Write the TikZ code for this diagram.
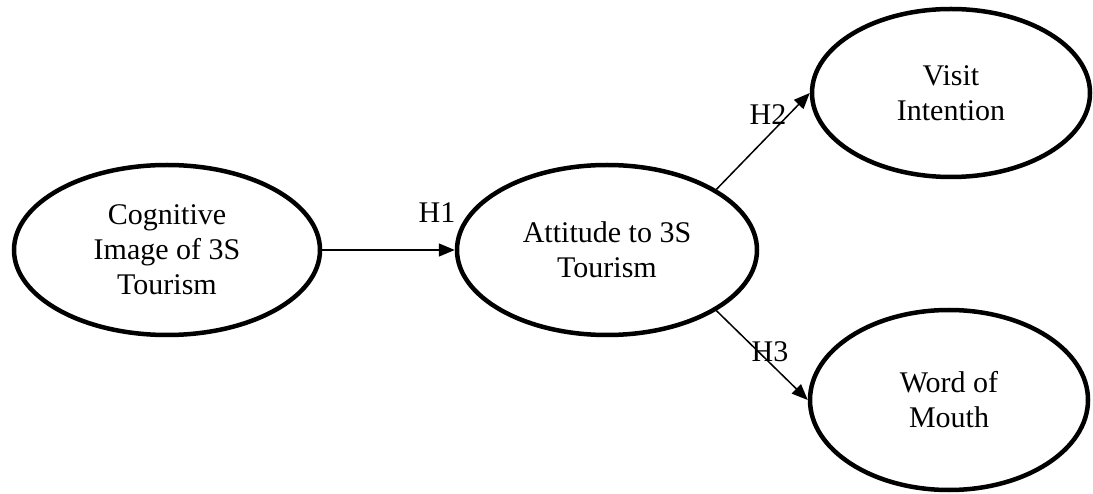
\documentclass[tikz,border=0pt]{standalone}
\usepackage{fontspec}
\setmainfont{Liberation Serif}
\usetikzlibrary{shapes.geometric,arrows.meta}
\tikzset{
  construct/.style={ellipse, draw, line width=4.5pt, inner sep=0pt, align=center,
    font=\fontsize{30pt}{35pt}\selectfont},
  path arrow/.style={line width=1.5pt, -{Triangle[length=16pt,width=13pt]}},
  hyp/.style={font=\fontsize{30pt}{35pt}\selectfont, inner sep=0pt}
}
\begin{document}
\begin{tikzpicture}[x=1pt,y=-1pt]
\useasboundingbox (0,0) rectangle (1093,494);
\node[construct, minimum width=306pt, minimum height=170pt] (cog) at (167,250) {Cognitive\\Image of 3S\\Tourism};
\node[construct, minimum width=300pt, minimum height=170pt] (att) at (607,250) {Attitude to 3S\\Tourism};
\node[construct, minimum width=278pt, minimum height=168pt] (vis) at (951,93) {Visit\\Intention};
\node[construct, minimum width=278pt, minimum height=180pt] (wom) at (949,400) {Word of\\Mouth};
\draw[path arrow] (cog.east) -- (att.west);
\draw[path arrow] (att.29) -- (vis.west);
\draw[path arrow] (att.-29) -- (wom.west);
\node[hyp] (h1) at (437,213) {H1};
\node[hyp] (h2) at (768,115) {H2};
\node[hyp] (h3) at (770,352) {H3};
\end{tikzpicture}
\end{document}
